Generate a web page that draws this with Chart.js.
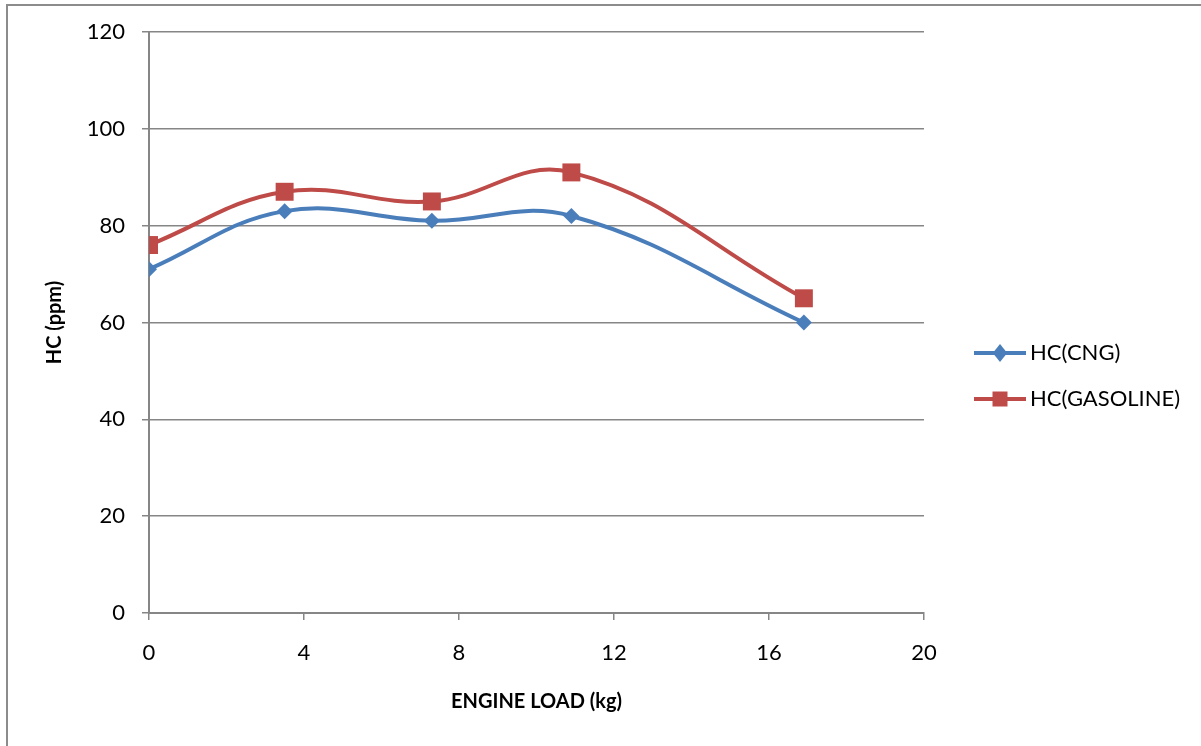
<!DOCTYPE html>
<html>
<head>
<meta charset="utf-8">
<script src="https://cdn.jsdelivr.net/npm/chart.js@4/dist/chart.umd.min.js"></script>
<style>
  html, body { margin: 0; padding: 0; background: #fff; }
  #hc_chart { display: block; }
</style>
</head>
<body>
<canvas id="hc_chart" width="1201" height="746"></canvas>
<script>
// engine load (kg) and HC readings (ppm)
const engineLoad = [0, 3.5, 7.3, 10.9, 16.9];
const hcCng = [71, 83, 81, 82, 60];
const hcGasoline = [76, 87, 85, 91, 65];
const seriesNames = ["HC(CNG)", "HC(GASOLINE)"];
const xTicks = [0, 4, 8, 12, 16, 20];
const yTicks = [0, 20, 40, 60, 80, 100, 120];

const blue = "#4a7ebb";
const red = "#be4b48";
const axisGray = "#868686";
const fontFamily = "Lato, 'Open Sans', sans-serif";

const toPoints = (ys) => engineLoad.map((x, i) => ({x: x, y: ys[i]}));

// draws a marker the same way in the legend
function drawMarker(ctx, style, x, y, r, color) {
  ctx.fillStyle = color;
  ctx.beginPath();
  if (style === "rect") {
    ctx.rect(x - r, y - r, 2 * r, 2 * r);
  } else {
    ctx.moveTo(x, y - r);
    ctx.lineTo(x + r * 0.8, y);
    ctx.lineTo(x, y + r);
    ctx.lineTo(x - r * 0.8, y);
    ctx.closePath();
  }
  ctx.fill();
}

const frameAndLegend = {
  id: "frameAndLegend",
  afterDraw(chart) {
    const ctx = chart.ctx;
    ctx.save();
    // outer frame (top and left edges)
    ctx.strokeStyle = "#8c8c8c";
    ctx.lineWidth = 2;
    ctx.beginPath();
    ctx.moveTo(7, 746);
    ctx.lineTo(7, 5);
    ctx.lineTo(1201, 5);
    ctx.stroke();

    // legend on the right
    chart.data.datasets.forEach((ds, i) => {
      const y = 353 + i * 46;
      ctx.strokeStyle = ds.borderColor;
      ctx.lineWidth = 4;
      ctx.beginPath();
      ctx.moveTo(974, y);
      ctx.lineTo(1026, y);
      ctx.stroke();
      if (ds.pointStyle === "rect") {
        drawMarker(ctx, "rect", 1000, y, 7.5, ds.borderColor);
      } else {
        drawMarker(ctx, "diamond", 1000, y, 9, ds.borderColor);
      }
      ctx.fillStyle = "#000";
      ctx.font = "22px " + fontFamily;
      ctx.textAlign = "left";
      ctx.textBaseline = "middle";
      ctx.fillText(ds.label, 1030, y);
    });
    ctx.restore();
  }
};

new Chart("hc_chart", {
  type: "scatter",
  data: {
    datasets: [{
      label: seriesNames[0],
      data: toPoints(hcCng),
      showLine: true,
      borderColor: blue,
      backgroundColor: blue,
      borderWidth: 4,
      tension: 0.4,
      pointStyle: "rectRot",
      pointRadius: 8,
      pointBorderWidth: 0,
      pointHoverRadius: 8
    }, {
      label: seriesNames[1],
      data: toPoints(hcGasoline),
      showLine: true,
      borderColor: red,
      backgroundColor: red,
      borderWidth: 4,
      tension: 0.4,
      pointStyle: "rect",
      pointRadius: 12.7,
      pointBorderWidth: 0,
      pointHoverRadius: 12.7
    }]
  },
  options: {
    responsive: false,
    animation: false,
    layout: {padding: {left: 0, top: 32, right: 277, bottom: 0}},
    plugins: {
      legend: {display: false},
      tooltip: {enabled: false}
    },
    scales: {
      x: {
        type: "linear",
        min: xTicks[0],
        max: xTicks[xTicks.length - 1],
        afterBuildTicks: (s) => { s.ticks = xTicks.map(v => ({value: v})); },
        afterFit: (s) => { s.height = 133; },
        grid: {drawOnChartArea: false, color: axisGray, lineWidth: 1.5, tickLength: 7},
        border: {color: axisGray, width: 2},
        ticks: {color: "#000", padding: 20, font: {family: fontFamily, size: 22}},
        title: {
          display: true,
          text: "ENGINE LOAD (kg)",
          color: "#000",
          font: {family: fontFamily, size: 20, weight: "bold"},
          padding: {top: 0, bottom: 32}
        }
      },
      y: {
        min: yTicks[0],
        max: yTicks[yTicks.length - 1],
        afterBuildTicks: (s) => { s.ticks = yTicks.map(v => ({value: v})); },
        afterFit: (s) => { s.width = 149; },
        grid: {color: axisGray, lineWidth: 1.5, tickLength: 7},
        border: {color: axisGray, width: 2},
        ticks: {color: "#000", padding: 17, font: {family: fontFamily, size: 22}},
        title: {
          display: true,
          text: "HC (ppm)",
          color: "#000",
          font: {family: fontFamily, size: 20, weight: "bold"},
          padding: {top: 43, bottom: 0}
        }
      }
    }
  },
  plugins: [frameAndLegend]
});
</script>
</body>
</html>
